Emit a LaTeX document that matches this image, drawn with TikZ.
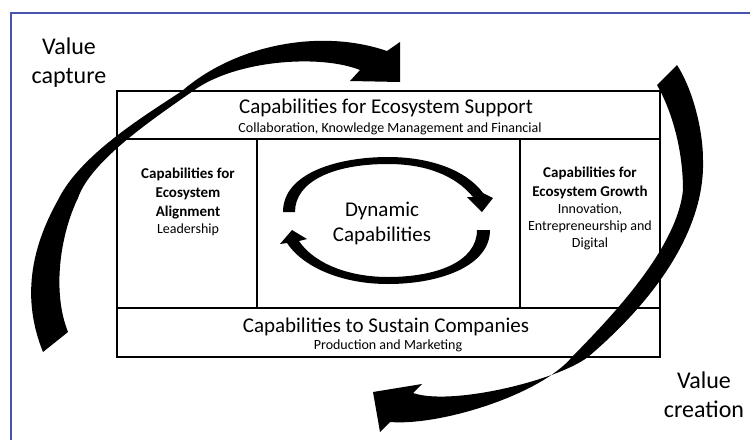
\documentclass[tikz,border=0pt]{standalone}
\usepackage{fontspec}
\setmainfont{Carlito}
\definecolor{framecol}{RGB}{72,84,176}

\begin{document}
\begin{tikzpicture}[x=1pt,y=-1pt,
    cell/.style={draw, line width=1.4pt, inner sep=0pt},
    title/.style={font=\fontsize{21}{25}\selectfont, anchor=base},
    subtitle/.style={font=\fontsize{14}{17}\selectfont, anchor=base},
    side/.style={font=\fontsize{14}{17}\selectfont, align=center, anchor=base},
    value/.style={font=\fontsize{24}{29}\selectfont, align=center, anchor=base},
    arrowfill/.style={fill=black}]
  \useasboundingbox (0,0) rectangle (750,440);

  % Outer frame (only top and left edges are visible)
  \draw[framecol, line width=1.5pt] (11,440) -- (11,13) -- (750,13);

  % The grid of capability cells
  \node[cell, minimum width=543pt, minimum height=48pt] (support) at (388.5,115) {};
  \node[cell, minimum width=140pt, minimum height=169pt] (alignment) at (187,223.5) {};
  \node[cell, minimum width=263pt, minimum height=169pt] (dynamic) at (388.5,223.5) {};
  \node[cell, minimum width=140pt, minimum height=169pt] (growth) at (590,223.5) {};
  \node[cell, minimum width=543pt, minimum height=49pt] (sustain) at (388.5,332.5) {};

  % Cell texts (base = baseline of the last line)
  \node[title] (supporttitle) at (386,113) {Capabilities for Ecosystem Support};
  \node[subtitle] (supportsub) at (390,132) {Collaboration, Knowledge Management and Financial};
  \node[title] (sustaintitle) at (386,332) {Capabilities to Sustain Companies};
  \node[subtitle] (sustainsub) at (388,349) {Production and Marketing};
  \node[font=\fontsize{21}{25}\selectfont, align=center, anchor=base] (dyntext) at (382,241) {Dynamic\\Capabilities};
  \node[side] (aligntext) at (188,233)
    {\textbf{\fontsize{15}{19}\selectfont Capabilities for}\\[2pt]
     \textbf{\fontsize{15}{19}\selectfont Ecosystem}\\[2pt]
     \textbf{\fontsize{15}{19}\selectfont Alignment}\\Leadership};
  \node[side] (growthtext) at (590,247)
    {\textbf{\fontsize{15}{19}\selectfont Capabilities for}\\[2pt]
     \textbf{\fontsize{15}{19}\selectfont Ecosystem Growth}\\
     Innovation,\\Entrepreneurship and\\Digital};

  % Value labels
  \node[value] (capture) at (69,83) {Value\\capture};
  \node[value] (creation) at (704,417) {Value\\creation};

  % Value capture arrow (lower left up to the top)
  \fill[arrowfill] (43,352) .. controls (22,300) and (30,250) .. (58,200)
    .. controls (80,155) and (144,116) .. (182,91)
    .. controls (235,45) and (320,28) .. (387,51)
    -- (400,42) -- (400,82) -- (350,81) -- (360,70)
    .. controls (320,54) and (235,60) .. (193,91)
    .. controls (156,117) and (91,160) .. (78,198)
    .. controls (60,235) and (52,292) .. (68,332) -- cycle;

  % Value creation arrow (top right down to the bottom)
  \fill[arrowfill] (677,65) .. controls (693,90) and (703,130) .. (703,160)
    .. controls (705,230) and (655,300) .. (588,357)
    .. controls (556,381) and (451,406) .. (413,393)
    -- (422,384) -- (373,392) -- (380,432) -- (390,422)
    .. controls (440,426) and (540,395) .. (572,357)
    .. controls (607,321) and (677,250) .. (683,190)
    .. controls (683,150) and (672,111) .. (657,85) -- cycle;

  % Dynamic capabilities cycle
  \fill[arrowfill] (283,212) .. controls (283,172) and (340,157) .. (388,157)
    .. controls (430,157) and (466,170) .. (483,193)
    -- (493,198) -- (482,212) -- (467,197) -- (473,197)
    .. controls (455,175) and (425,164) .. (388,164)
    .. controls (332,164) and (295,182) .. (295,212) -- cycle;
  \fill[arrowfill] (490,230) .. controls (490,266) and (440,284) .. (388,284)
    .. controls (340,284) and (302,266) .. (287,243)
    -- (280,244) -- (292,230) -- (307,239) -- (299,241)
    .. controls (313,262) and (346,277) .. (388,277)
    .. controls (436,277) and (477,262) .. (477,230) -- cycle;
\end{tikzpicture}
\end{document}
